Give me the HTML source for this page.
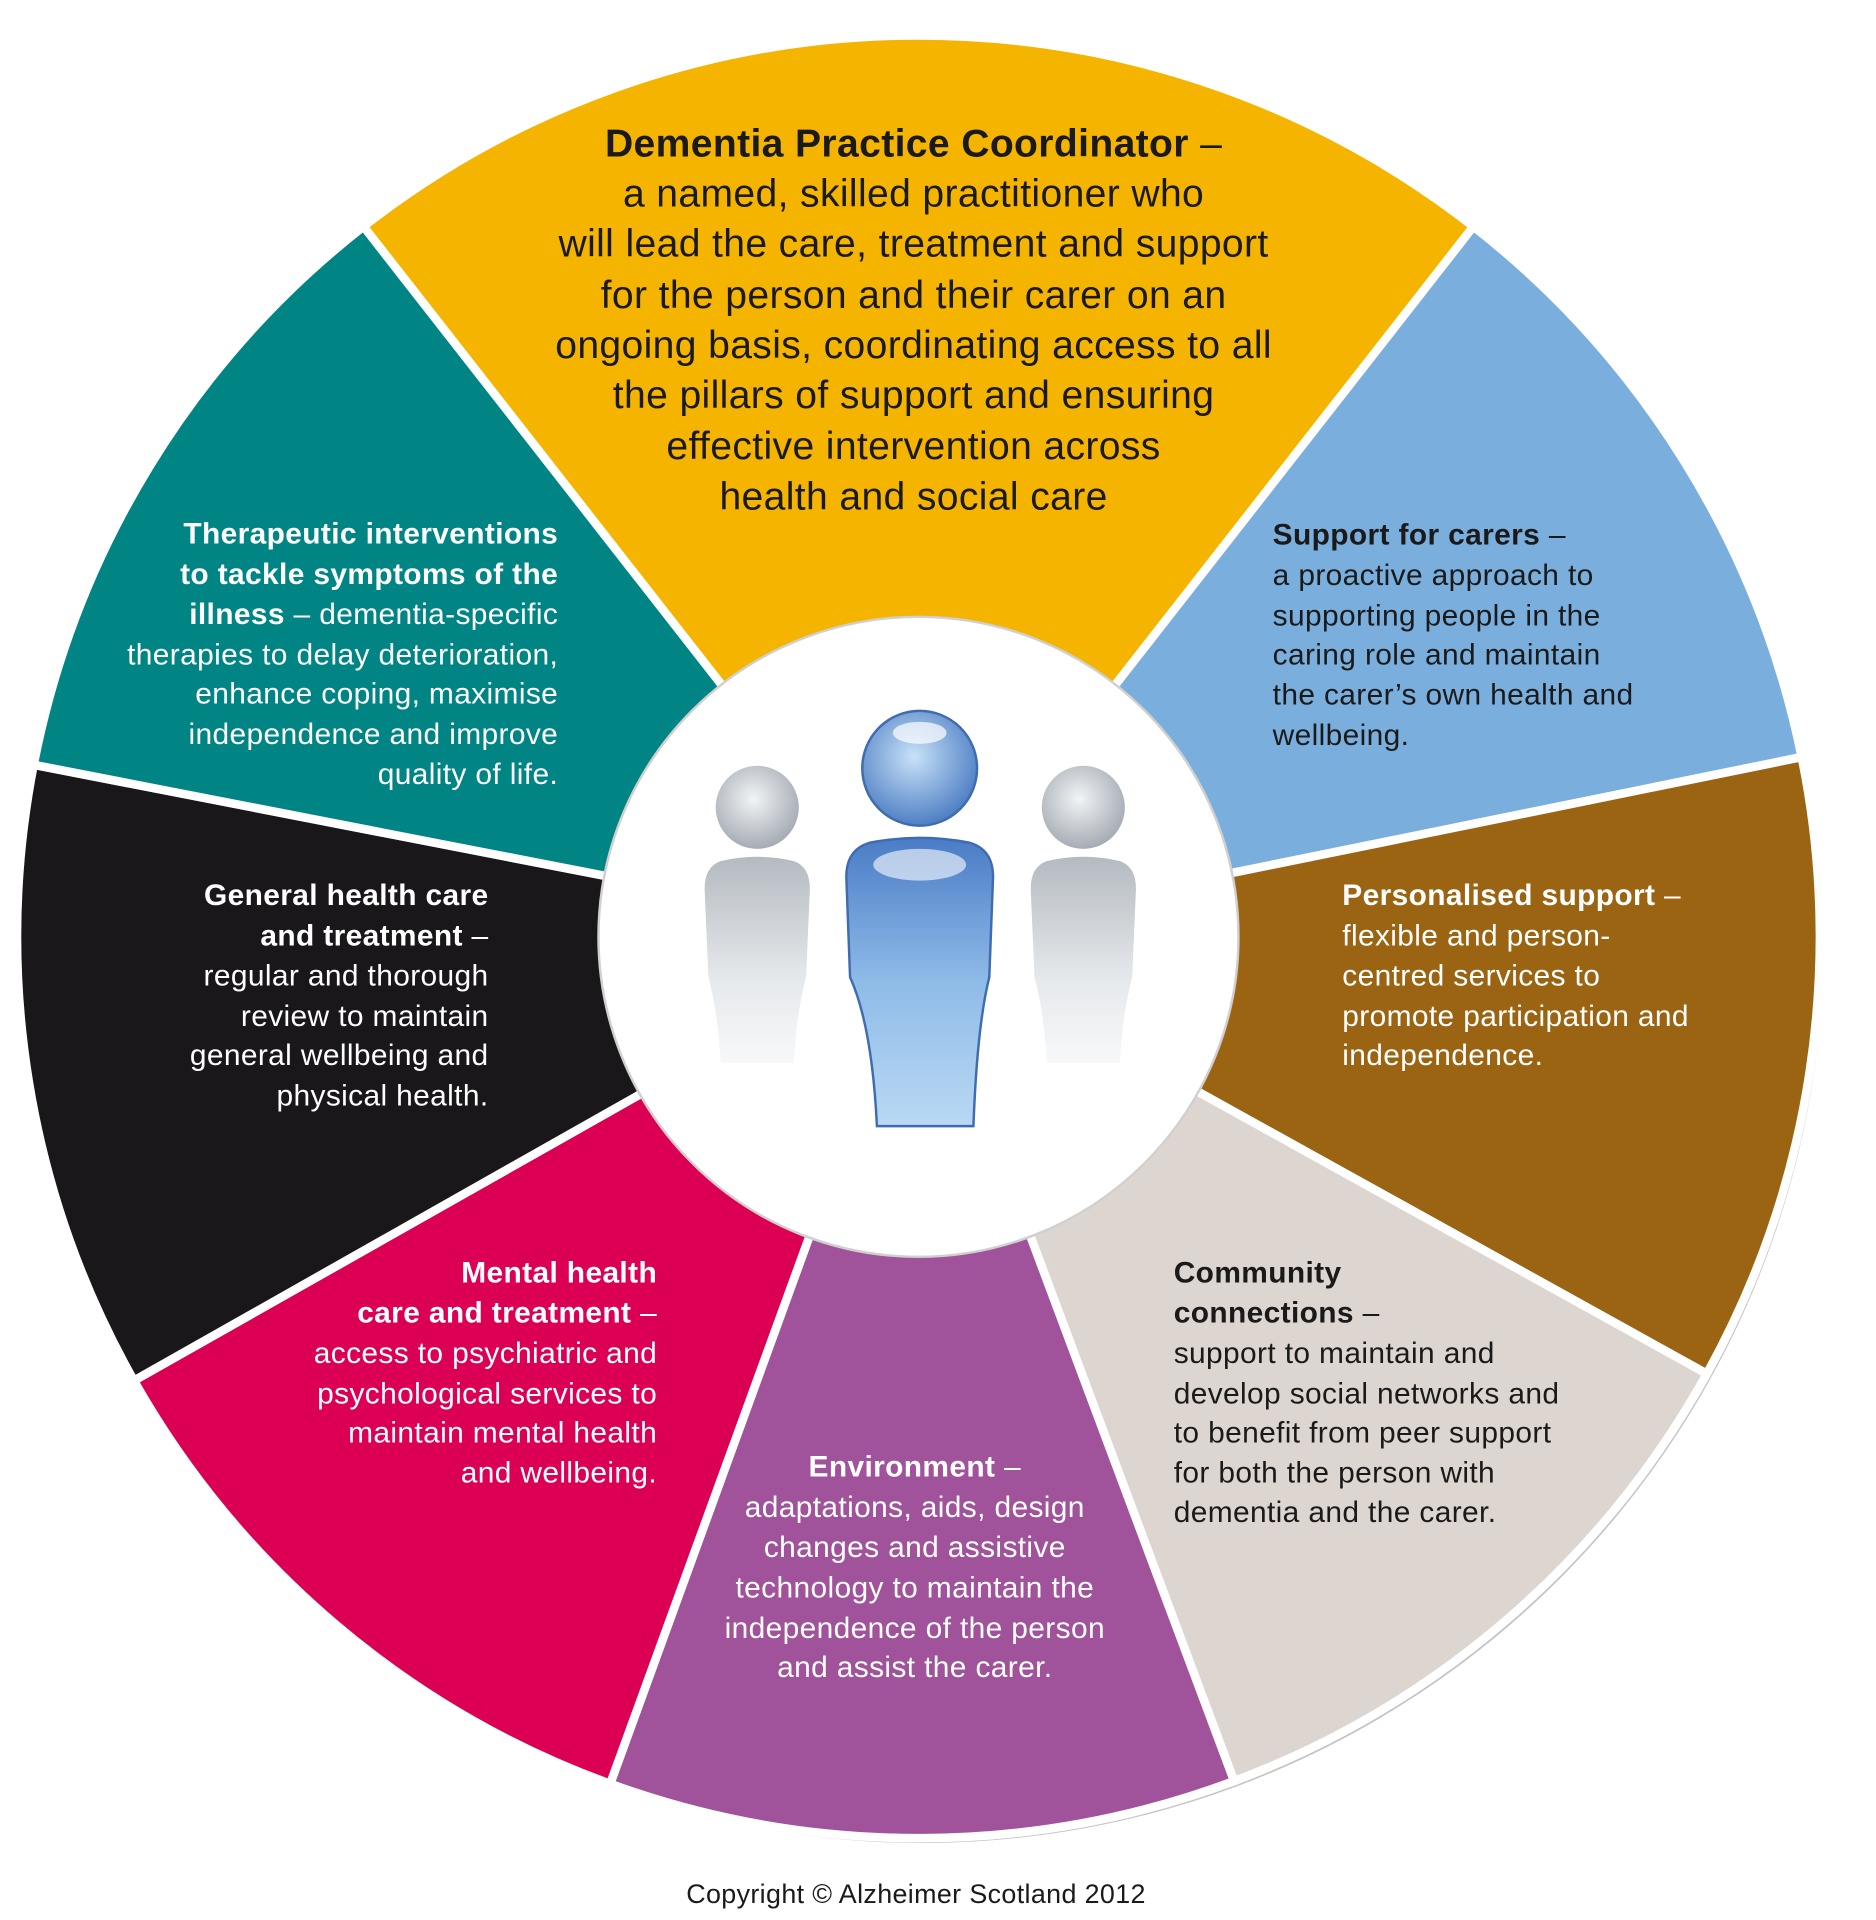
<!DOCTYPE html>
<html><head><meta charset="utf-8"><style>
html,body{margin:0;padding:0;background:#fff;}
svg{display:block;}
text{font-family:"Liberation Sans",sans-serif;letter-spacing:0.3px;}
</style></head><body>
<svg width="1876" height="1920" viewBox="0 0 1536 1572" xmlns="http://www.w3.org/2000/svg">
<defs>
<radialGradient id="blueHead" cx="0.45" cy="0.4" r="0.6"><stop offset="0" stop-color="#c8e2f8"/><stop offset="1" stop-color="#4f7fc4"/></radialGradient>
<linearGradient id="blueBody" x1="0" y1="0" x2="0" y2="1"><stop offset="0" stop-color="#4a7cc6"/><stop offset="0.5" stop-color="#8fbbe8"/><stop offset="1" stop-color="#b9d9f4"/></linearGradient>
<radialGradient id="grayHead" cx="0.45" cy="0.4" r="0.6"><stop offset="0" stop-color="#f2f4f6"/><stop offset="1" stop-color="#a5acb4"/></radialGradient>
<linearGradient id="grayBody" x1="0" y1="0" x2="0" y2="1"><stop offset="0" stop-color="#b4bac0"/><stop offset="0.6" stop-color="#e6e9ec"/><stop offset="1" stop-color="#f7f8f9"/></linearGradient>
</defs>
<g id="segments"></g>
<circle cx="752" cy="767" r="262" fill="#fff" stroke="#d0d0d0" stroke-width="2"/>
<g>
<circle cx="620" cy="661" r="34" fill="url(#grayHead)"/>
<path d="M590 705 Q620 698 650 705 Q664 710 663 730 L660 800 Q652 830 650 870 L590 870 Q588 830 580 800 L577 730 Q576 710 590 705Z" fill="url(#grayBody)"/>
<circle cx="887" cy="661" r="34" fill="url(#grayHead)"/>
<path d="M857 705 Q887 698 917 705 Q931 710 930 730 L927 800 Q919 830 917 870 L857 870 Q855 830 847 800 L844 730 Q843 710 857 705Z" fill="url(#grayBody)"/>
<circle cx="753" cy="629" r="47" fill="url(#blueHead)" stroke="#3f6cb0" stroke-width="2"/>
<ellipse cx="753" cy="600" rx="22" ry="9" fill="#fff" opacity="0.7"/>
<path d="M712 690 Q753 682 794 690 Q814 696 813 720 L810 800 Q800 840 797 922 L718 922 Q714 840 696 800 L693 720 Q692 696 712 690Z" fill="url(#blueBody)" stroke="#3f6cb0" stroke-width="2"/>
<ellipse cx="753" cy="708" rx="38" ry="13" fill="#fff" opacity="0.6"/>
</g>
<g font-size="32" fill="#1a1a1a" text-anchor="middle">
<text x="748" y="128"><tspan font-weight="bold">Dementia Practice Coordinator</tspan> –</text>
<text x="748" y="169">a named, skilled practitioner who</text>
<text x="748" y="210">will lead the care, treatment and support</text>
<text x="748" y="252">for the person and their carer on an</text>
<text x="748" y="293">ongoing basis, coordinating access to all</text>
<text x="748" y="334">the pillars of support and ensuring</text>
<text x="748" y="376">effective intervention across</text>
<text x="748" y="417">health and social care</text>
</g>
<g font-size="24.5" fill="#fff" text-anchor="end">
<text x="457" y="445" font-weight="bold">Therapeutic interventions</text>
<text x="457" y="478" font-weight="bold">to tackle symptoms of the</text>
<text x="457" y="511"><tspan font-weight="bold">illness</tspan> – dementia-specific</text>
<text x="457" y="544">therapies to delay deterioration,</text>
<text x="457" y="576">enhance coping, maximise</text>
<text x="457" y="609">independence and improve</text>
<text x="457" y="642">quality of life.</text>
</g>
<g font-size="24.5" fill="#1a1a1a">
<text x="1042" y="446"><tspan font-weight="bold">Support for carers</tspan> –</text>
<text x="1042" y="479">a proactive approach to</text>
<text x="1042" y="512">supporting people in the</text>
<text x="1042" y="544">caring role and maintain</text>
<text x="1042" y="577">the carer’s own health and</text>
<text x="1042" y="610">wellbeing.</text>
</g>
<g font-size="24.5" fill="#fff" text-anchor="end">
<text x="400" y="741" font-weight="bold">General health care</text>
<text x="400" y="774"><tspan font-weight="bold">and treatment</tspan> –</text>
<text x="400" y="807">regular and thorough</text>
<text x="400" y="840">review to maintain</text>
<text x="400" y="872">general wellbeing and</text>
<text x="400" y="905">physical health.</text>
</g>
<g font-size="24.5" fill="#fff">
<text x="1099" y="741"><tspan font-weight="bold">Personalised support</tspan> –</text>
<text x="1099" y="774">flexible and person-</text>
<text x="1099" y="807">centred services to</text>
<text x="1099" y="840">promote participation and</text>
<text x="1099" y="872">independence.</text>
</g>
<g font-size="24.5" fill="#fff" text-anchor="end">
<text x="538" y="1050" font-weight="bold">Mental health</text>
<text x="538" y="1083"><tspan font-weight="bold">care and treatment</tspan> –</text>
<text x="538" y="1116">access to psychiatric and</text>
<text x="538" y="1149">psychological services to</text>
<text x="538" y="1181">maintain mental health</text>
<text x="538" y="1214">and wellbeing.</text>
</g>
<g font-size="24.5" fill="#1a1a1a">
<text x="961" y="1050" font-weight="bold">Community</text>
<text x="961" y="1083"><tspan font-weight="bold">connections</tspan> –</text>
<text x="961" y="1116">support to maintain and</text>
<text x="961" y="1149">develop social networks and</text>
<text x="961" y="1181">to benefit from peer support</text>
<text x="961" y="1214">for both the person with</text>
<text x="961" y="1246">dementia and the carer.</text>
</g>
<g font-size="24.5" fill="#fff" text-anchor="middle">
<text x="749" y="1209"><tspan font-weight="bold">Environment</tspan> –</text>
<text x="749" y="1242">adaptations, aids, design</text>
<text x="749" y="1275">changes and assistive</text>
<text x="749" y="1308">technology to maintain the</text>
<text x="749" y="1341">independence of the person</text>
<text x="749" y="1373">and assist the carer.</text>
</g>
<text x="750" y="1558" font-size="22" text-anchor="middle" fill="#1a1a1a">Copyright © Alzheimer Scotland 2012</text>
</svg>
<script>
const segNames=['coordinator','carers','personalised','community','environment','mental-health','general-health','therapeutic'];
const segColors=['#F5B400','#7AAEDC','#9B6412','#DDD6D0','#A0529A','#DC0055','#1A171B','#008484'];
const segStarts=[-38,38,78.5,119,159.5,200,240.5,281];
const segEnds=[38,78.5,119,159.5,200,240.5,281,322];
const cx=752,cy=767,R=738,r0=240;
const g=document.getElementById('segments');
function pt(a,r){const t=(a-90)*Math.PI/180;return [cx+r*Math.cos(t),cy+r*Math.sin(t)];}
for(let i=0;i<segNames.length;i++){
  const a0=segStarts[i],a1=segEnds[i];
  const p1=pt(a0,r0),p2=pt(a0,R),p3=pt(a1,R),p4=pt(a1,r0);
  const large=(a1-a0)>180?1:0;
  const d=`M${p1} L${p2} A${R} ${R} 0 ${large} 1 ${p3} L${p4} A${r0} ${r0} 0 ${large} 0 ${p1}Z`;
  const sh=document.createElementNS('http://www.w3.org/2000/svg','path');
  sh.setAttribute('d',d);sh.setAttribute('fill','#c4c4c4');sh.setAttribute('transform','translate(3,4)');
  
  
  g.appendChild(sh);
}
for(let i=0;i<segNames.length;i++){
  const a0=segStarts[i],a1=segEnds[i];
  const p1=pt(a0,r0),p2=pt(a0,R),p3=pt(a1,R),p4=pt(a1,r0);
  const large=(a1-a0)>180?1:0;
  const d=`M${p1} L${p2} A${R} ${R} 0 ${large} 1 ${p3} L${p4} A${r0} ${r0} 0 ${large} 0 ${p1}Z`;
  const p=document.createElementNS('http://www.w3.org/2000/svg','path');
  p.setAttribute('d',d);p.setAttribute('fill',segColors[i]);p.setAttribute('stroke','#fff');p.setAttribute('stroke-width','7');
  
  
  g.appendChild(p);
}
</script>
</body></html>
